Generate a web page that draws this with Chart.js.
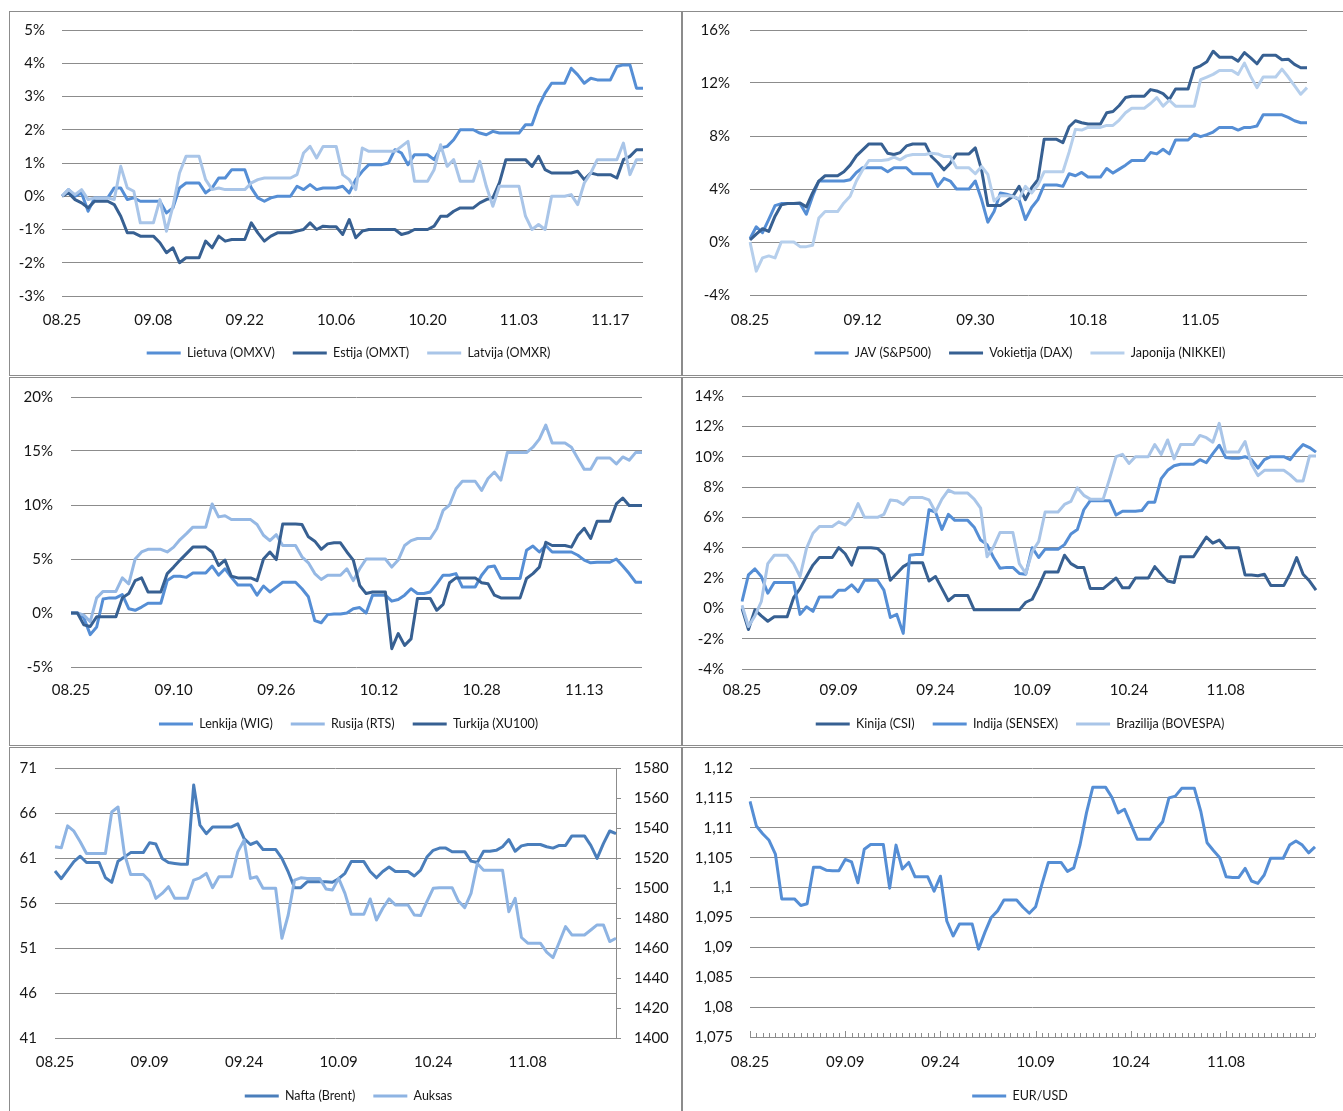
<!DOCTYPE html>
<html>
<head>
<meta charset="utf-8">
<script src="https://cdn.jsdelivr.net/npm/chart.js@4.4.1/dist/chart.umd.min.js"></script>
<style>
html, body { margin: 0; padding: 0; background: #fff; overflow: hidden; }
body { width: 1343px; height: 1111px; position: relative; }
.box { position: absolute; border: 1px solid #8c8c8c; box-sizing: border-box; background: #fff; }
.box canvas { position: absolute; left: 0; top: 0; }
</style>
</head>
<body>
<div class="box" style="left:9px;top:11px;width:673px;height:365px"><canvas id="c1" width="671" height="363"></canvas></div>
<div class="box" style="left:682px;top:11px;width:676px;height:365px"><canvas id="c2" width="674" height="363"></canvas></div>
<div class="box" style="left:9px;top:377px;width:673px;height:369px"><canvas id="c3" width="671" height="367"></canvas></div>
<div class="box" style="left:682px;top:377px;width:676px;height:369px"><canvas id="c4" width="674" height="367"></canvas></div>
<div class="box" style="left:9px;top:747px;width:673px;height:366px"><canvas id="c5" width="671" height="364"></canvas></div>
<div class="box" style="left:682px;top:747px;width:676px;height:366px"><canvas id="c6" width="674" height="364"></canvas></div>
<script>
let dates = [
  "08.25","08.26","08.27","08.28","08.29","08.30","08.31",
  "09.01","09.02","09.03","09.04","09.05","09.06","09.07","09.08","09.09","09.10",
  "09.11","09.12","09.13","09.14","09.15","09.16","09.17","09.18","09.19","09.20",
  "09.21","09.22","09.23","09.24","09.25","09.26","09.27","09.28","09.29","09.30",
  "10.01","10.02","10.03","10.04","10.05","10.06","10.07","10.08","10.09","10.10",
  "10.11","10.12","10.13","10.14","10.15","10.16","10.17","10.18","10.19","10.20",
  "10.21","10.22","10.23","10.24","10.25","10.26","10.27","10.28","10.29","10.30","10.31",
  "11.01","11.02","11.03","11.04","11.05","11.06","11.07","11.08","11.09","11.10",
  "11.11","11.12","11.13","11.14","11.15","11.16","11.17","11.18","11.19","11.20",
  "11.21","11.22"
];

// Baltijos indeksai, %
let lietuva = [0.0, 0.2, 0.0, 0.1, -0.45, -0.05, -0.05, -0.05, 0.25, 0.25,
  -0.1, -0.05, -0.15, -0.15, -0.15, -0.15, -0.5, -0.35, 0.25, 0.4,
  0.4, 0.4, 0.1, 0.25, 0.55, 0.55, 0.8, 0.8, 0.8, 0.25,
  -0.05, -0.15, -0.05, 0.0, 0.0, 0.0, 0.3, 0.2, 0.35, 0.2,
  0.25, 0.25, 0.25, 0.3, 0.1, 0.5, 0.75, 0.95, 0.95, 0.95,
  1.0, 1.4, 1.3, 0.95, 1.25, 1.25, 1.25, 1.1, 1.45, 1.5,
  1.7, 2.0, 2.0, 2.0, 1.9, 1.85, 1.95, 1.9, 1.9, 1.9,
  1.9, 2.15, 2.15, 2.7, 3.1, 3.4, 3.4, 3.4, 3.85, 3.65,
  3.4, 3.55, 3.5, 3.5, 3.5, 3.9, 3.95, 3.95, 3.25, 3.25];
let estija = [0.0, 0.1, -0.1, -0.2, -0.35, -0.15, -0.15, -0.15, -0.25, -0.6,
  -1.1, -1.1, -1.2, -1.2, -1.2, -1.4, -1.7, -1.55, -2.0, -1.85,
  -1.85, -1.85, -1.35, -1.55, -1.2, -1.35, -1.3, -1.3, -1.3, -0.8,
  -1.1, -1.35, -1.2, -1.1, -1.1, -1.1, -1.05, -1.0, -0.8, -1.0,
  -0.9, -0.92, -0.92, -1.15, -0.7, -1.25, -1.05, -1.0, -1.0, -1.0,
  -1.0, -1.0, -1.15, -1.1, -1.0, -1.0, -1.0, -0.9, -0.6, -0.6,
  -0.45, -0.35, -0.35, -0.35, -0.2, -0.1, -0.05, 0.4, 1.1, 1.1,
  1.1, 1.1, 0.9, 1.2, 0.8, 0.7, 0.7, 0.7, 0.7, 0.75,
  0.5, 0.7, 0.65, 0.65, 0.65, 0.55, 1.1, 1.2, 1.4, 1.4];
let latvija = [0.0, 0.2, 0.05, 0.2, -0.1, -0.05, -0.05, -0.05, -0.1, 0.9,
  0.25, 0.15, -0.8, -0.8, -0.8, -0.1, -1.05, -0.3, 0.7, 1.2,
  1.2, 1.2, 0.5, 0.2, 0.25, 0.2, 0.2, 0.2, 0.2, 0.4,
  0.5, 0.55, 0.55, 0.55, 0.55, 0.55, 0.65, 1.3, 1.5, 1.15,
  1.5, 1.5, 1.5, 0.65, 0.5, 0.2, 1.45, 1.35, 1.35, 1.35,
  1.35, 1.35, 1.5, 1.65, 0.45, 0.45, 0.45, 0.8, 1.55, 0.9,
  1.1, 0.45, 0.45, 0.45, 1.05, 0.3, -0.3, 0.3, 0.3, 0.3,
  0.3, -0.6, -1.0, -0.85, -1.0, 0.0, 0.0, 0.0, 0.05, -0.25,
  0.4, 0.7, 1.1, 1.1, 1.1, 1.1, 1.6, 0.65, 1.1, 1.1];

// Išsivysčiusios rinkos, %
let jav = [0.25, 1.15, 0.7, 1.7, 2.75, 2.9, 2.9, 2.9, 2.9, 2.1,
  3.45, 4.6, 4.6, 4.6, 4.6, 4.6, 4.7, 5.25, 5.6, 5.6,
  5.6, 5.6, 5.3, 5.6, 5.6, 5.6, 5.15, 5.15, 5.15, 5.15,
  4.2, 4.8, 4.6, 4.0, 4.0, 4.0, 4.6, 3.2, 1.5, 2.3,
  3.7, 3.6, 3.45, 3.2, 1.7, 2.6, 3.2, 4.3, 4.3, 4.3,
  4.2, 5.15, 5.0, 5.25, 4.9, 4.9, 4.9, 5.55, 5.2, 5.5,
  5.8, 6.15, 6.15, 6.15, 6.75, 6.65, 7.0, 6.65, 7.7, 7.7,
  7.7, 8.15, 7.95, 8.1, 8.3, 8.65, 8.65, 8.65, 8.45, 8.65,
  8.65, 8.75, 9.6, 9.6, 9.6, 9.6, 9.4, 9.15, 9.0, 9.0];
let vokietija = [0.15, 0.6, 1.0, 0.8, 1.95, 2.8, 2.9, 2.9, 2.95, 2.65,
  3.7, 4.6, 5.0, 5.0, 5.0, 5.3, 5.8, 6.5, 6.95, 7.4,
  7.4, 7.4, 6.7, 6.6, 6.75, 7.25, 7.4, 7.4, 7.4, 6.45,
  6.0, 5.45, 5.95, 6.65, 6.65, 6.65, 7.1, 5.45, 2.75, 2.75,
  2.75, 3.1, 3.45, 4.2, 3.2, 4.1, 4.7, 7.75, 7.75, 7.75,
  7.5, 8.7, 9.15, 9.0, 8.9, 8.9, 8.9, 9.75, 9.85, 10.3,
  10.9, 11.0, 11.0, 11.0, 11.5, 11.4, 11.2, 10.75, 11.55, 11.55,
  11.55, 13.1, 13.3, 13.6, 14.4, 13.95, 13.95, 13.95, 13.65, 14.3,
  13.9, 13.45, 14.1, 14.1, 14.1, 13.75, 13.8, 13.4, 13.15, 13.15];
let japonija = [0.0, -2.2, -1.2, -1.05, -1.2, 0.0, 0.0, 0.0, -0.35, -0.35,
  -0.25, 1.8, 2.3, 2.3, 2.3, 2.95, 3.45, 4.6, 5.45, 6.15,
  6.15, 6.15, 6.2, 6.4, 6.2, 6.5, 6.6, 6.6, 6.6, 6.7,
  6.65, 6.45, 6.45, 5.6, 5.6, 5.6, 5.15, 5.7, 5.1, 3.1,
  3.5, 3.5, 3.45, 3.25, 4.2, 3.7, 4.3, 5.3, 5.3, 5.3,
  5.3, 6.8, 8.5, 8.45, 8.65, 8.65, 8.65, 8.8, 8.8, 9.2,
  9.75, 10.1, 10.1, 10.1, 10.45, 10.9, 10.25, 10.7, 10.25, 10.25,
  10.25, 10.25, 12.25, 12.45, 12.65, 12.95, 12.95, 12.95, 12.65, 13.5,
  12.5, 11.65, 12.45, 12.45, 12.45, 13.05, 12.45, 11.8, 11.15, 11.65];

// Besivystančios rinkos, %
let lenkija = [0, 0, -0.45, -2.0, -1.3, 1.3, 1.4, 1.4, 1.7, 0.4,
  0.25, 0.55, 0.9, 0.9, 0.9, 3.0, 3.4, 3.4, 3.3, 3.7,
  3.7, 3.7, 4.35, 3.5, 4.1, 3.3, 2.6, 2.6, 2.6, 1.65,
  2.5, 1.95, 2.4, 2.85, 2.85, 2.85, 2.25, 1.5, -0.7, -0.9,
  -0.15, -0.1, -0.1, 0.0, 0.4, 0.5, 0.0, 1.65, 1.65, 1.65,
  1.1, 1.25, 1.65, 2.25, 1.8, 1.8, 1.95, 2.7, 3.5, 3.5,
  3.65, 2.4, 2.4, 2.4, 3.5, 4.25, 4.35, 3.2, 3.2, 3.2,
  3.2, 5.8, 6.2, 5.65, 6.25, 5.65, 5.65, 5.65, 5.65, 5.35,
  4.9, 4.65, 4.7, 4.7, 4.7, 5.0, 4.35, 3.65, 2.85, 2.85];
let rusija = [0, 0, -0.2, -0.8, 1.4, 2.0, 2.0, 2.0, 3.25, 2.7,
  5.0, 5.65, 5.9, 5.9, 5.9, 5.65, 6.1, 6.8, 7.35, 7.95,
  7.95, 7.95, 10.1, 8.9, 9.0, 8.65, 8.65, 8.65, 8.65, 8.2,
  7.2, 6.7, 7.25, 6.25, 6.25, 6.25, 5.2, 4.65, 3.65, 3.1,
  3.5, 3.5, 3.5, 4.1, 3.0, 4.1, 5.0, 5.0, 5.0, 5.0,
  4.25, 4.9, 6.25, 6.7, 6.9, 6.9, 6.9, 7.8, 9.5, 10.0,
  11.5, 12.2, 12.2, 12.2, 11.35, 12.45, 13.05, 12.3, 14.85, 14.85,
  14.85, 14.85, 15.35, 16.1, 17.4, 15.75, 15.75, 15.75, 15.35, 14.3,
  13.3, 13.3, 14.35, 14.35, 14.35, 13.8, 14.45, 14.15, 14.85, 14.85];
let turkija = [0, 0, -1.1, -1.25, -0.35, -0.35, -0.35, -0.35, 1.4, 1.8,
  3.0, 3.25, 1.95, 1.95, 1.95, 3.65, 4.25, 4.9, 5.5, 6.1,
  6.1, 6.1, 5.65, 4.4, 4.9, 3.4, 3.25, 3.25, 3.25, 3.0,
  5.0, 5.65, 4.95, 8.25, 8.25, 8.25, 8.2, 7.05, 6.65, 5.9,
  6.4, 6.5, 6.5, 5.65, 4.9, 2.55, 1.8, 1.95, 1.95, 1.95,
  -3.3, -1.9, -3.0, -2.4, 1.35, 1.35, 1.35, 0.25, 0.8, 2.8,
  3.25, 3.25, 3.25, 3.25, 2.8, 2.7, 1.65, 1.4, 1.4, 1.4,
  1.4, 3.2, 3.65, 4.25, 6.55, 6.25, 6.25, 6.25, 6.1, 7.2,
  7.85, 6.9, 8.5, 8.5, 8.5, 10.1, 10.65, 9.95, 9.95, 9.95];

let kinija = [0.0, -1.4, -0.1, -0.5, -0.85, -0.55, -0.55, -0.55, 0.7, 1.3,
  2.1, 2.85, 3.35, 3.35, 3.35, 4.0, 3.6, 2.85, 4.0, 4.0,
  4.0, 3.95, 3.55, 1.85, 2.3, 2.75, 3.0, 3.0, 3.0, 1.8,
  2.1, 1.3, 0.5, 0.85, 0.85, 0.85, -0.1, -0.1, -0.1, -0.1,
  -0.1, -0.1, -0.1, -0.1, 0.4, 0.6, 1.45, 2.4, 2.4, 2.4,
  3.5, 2.95, 2.7, 2.7, 1.3, 1.3, 1.3, 1.65, 2.0, 1.35,
  1.35, 2.0, 2.0, 2.0, 2.75, 2.25, 1.8, 1.7, 3.4, 3.4,
  3.4, 4.05, 4.7, 4.3, 4.5, 4.0, 4.0, 4.0, 2.2, 2.2,
  2.15, 2.25, 1.5, 1.5, 1.5, 2.3, 3.35, 2.25, 1.8, 1.2];
let indija = [0.45, 2.2, 2.6, 2.1, 1.0, 1.7, 1.7, 1.7, 1.7, -0.4,
  0.1, -0.2, 0.75, 0.75, 0.75, 1.2, 1.2, 1.55, 1.1, 1.85,
  1.85, 1.85, 1.2, -0.6, -0.4, -1.65, 3.5, 3.55, 3.55, 6.5,
  6.35, 5.2, 6.2, 5.8, 5.8, 5.8, 5.35, 4.5, 4.2, 3.35,
  2.65, 2.7, 2.7, 2.3, 2.25, 4.0, 3.35, 3.9, 3.9, 3.9,
  4.2, 4.9, 5.2, 6.5, 7.1, 7.1, 7.1, 7.1, 6.15, 6.4,
  6.4, 6.4, 6.45, 7.0, 7.0, 8.55, 9.1, 9.4, 9.5, 9.5,
  9.5, 9.8, 9.6, 10.2, 10.75, 9.95, 9.9, 9.9, 10.0, 9.8,
  9.25, 9.8, 10.0, 10.0, 10.0, 9.8, 10.35, 10.8, 10.6, 10.3];
let brazilija = [0.2, -1.2, -0.5, 0.45, 2.95, 3.5, 3.5, 3.5, 2.95, 2.1,
  3.95, 4.95, 5.4, 5.4, 5.4, 5.7, 5.5, 5.95, 6.9, 6.0,
  6.0, 6.0, 6.2, 7.15, 7.1, 6.85, 7.3, 7.3, 7.3, 7.15,
  6.35, 7.2, 7.8, 7.6, 7.6, 7.6, 7.2, 6.6, 3.4, 4.05,
  5.0, 5.0, 5.0, 2.95, 2.3, 3.75, 4.4, 6.35, 6.35, 6.35,
  6.85, 7.05, 7.95, 7.45, 7.2, 7.2, 7.2, 8.55, 10.0, 10.15,
  9.55, 10.0, 10.0, 10.0, 10.8, 10.15, 11.1, 9.85, 10.8, 10.8,
  10.8, 11.4, 11.25, 10.95, 12.2, 10.3, 10.3, 10.3, 11.0, 9.5,
  8.75, 9.1, 9.1, 9.1, 9.1, 8.8, 8.4, 8.4, 10.05, 10.05];

// Žaliavos: nafta USD/bbl (kairė ašis), auksas USD/oz (dešinė ašis)
let nafta = [59.55, 58.7, 59.65, 60.6, 61.2, 60.5, 60.5, 60.5, 58.8, 58.3,
  60.65, 61.1, 61.6, 61.6, 61.6, 62.7, 62.55, 60.95, 60.5, 60.4,
  60.3, 60.3, 69.1, 64.65, 63.7, 64.45, 64.45, 64.45, 64.45, 64.8,
  63.15, 62.5, 62.8, 61.95, 61.95, 61.95, 60.95, 59.45, 57.7, 57.7,
  58.35, 58.35, 58.35, 58.35, 58.3, 58.7, 59.3, 60.6, 60.6, 60.6,
  59.5, 58.8, 59.5, 60.0, 59.5, 59.5, 59.5, 59.0, 59.65, 61.1,
  61.85, 62.1, 62.1, 61.7, 61.7, 61.7, 60.65, 60.5, 61.75, 61.75,
  61.85, 62.25, 63.05, 61.75, 62.35, 62.5, 62.5, 62.5, 62.25, 62.1,
  62.4, 62.4, 63.45, 63.45, 63.45, 62.4, 60.95, 62.6, 64.0, 63.7];
let auksas = [1527.5, 1526.8, 1541.4, 1537.9, 1530.8, 1523, 1523, 1523, 1523, 1550.7,
  1554, 1523, 1509, 1509, 1509, 1504.6, 1493.1, 1496.4, 1500.9, 1493.1,
  1493.1, 1493.1, 1505.3, 1506.8, 1509.7, 1500.2, 1507.5, 1507.5, 1507.5, 1524.1,
  1531.9, 1506.4, 1507.5, 1499.8, 1499.8, 1499.8, 1466.5, 1482, 1505.3, 1506.8,
  1506.4, 1506.4, 1506.4, 1499.3, 1498.6, 1506.4, 1496.4, 1482.5, 1482.5, 1482.5,
  1492.7, 1478.7, 1486.5, 1492.7, 1488.7, 1488.7, 1488.7, 1482, 1481.6, 1490.9,
  1499.8, 1500.2, 1500.2, 1500.2, 1491.3, 1486.9, 1496.4, 1516.4, 1511.9, 1511.9,
  1511.9, 1511.9, 1484.2, 1493.1, 1467, 1463.2, 1463.2, 1463.2, 1457.2, 1453.6,
  1463.8, 1474.3, 1468.7, 1468.7, 1468.7, 1472, 1475.4, 1475.4, 1464.3, 1466.5];

let eurusd = [1.1144, 1.1103, 1.109, 1.1079, 1.1056, 1.0981, 1.0981, 1.0981, 1.097, 1.0973,
  1.1034, 1.1034, 1.1029, 1.1028, 1.1028, 1.1047, 1.1043, 1.1008, 1.1064, 1.1072,
  1.1072, 1.1072, 1.0999, 1.1071, 1.1031, 1.1042, 1.1018, 1.1018, 1.1018, 1.0994,
  1.1019, 1.0944, 1.0919, 1.0939, 1.0939, 1.0939, 1.0897, 1.0925, 1.095, 1.0961,
  1.0979, 1.0979, 1.0979, 1.0967, 1.0957, 1.0968, 1.1006, 1.1042, 1.1042, 1.1042,
  1.1027, 1.1033, 1.1072, 1.1125, 1.1168, 1.1168, 1.1168, 1.1151, 1.1125, 1.1131,
  1.1106, 1.1081, 1.1081, 1.1081, 1.1097, 1.111, 1.115, 1.1153, 1.1166, 1.1166,
  1.1166, 1.1128, 1.1075, 1.1062, 1.105, 1.1018, 1.1017, 1.1017, 1.1032, 1.1011,
  1.1007, 1.1021, 1.1049, 1.1049, 1.1049, 1.1071, 1.1078, 1.1071, 1.1058, 1.1068];

let gridColor = "#8c8c8c";
let textColor = "#161616";
let midBlue = "#558ed5";
let darkBlue = "#376092";
let lightBlue = "#a9c5e8";

Chart.defaults.font.family = "Lato, 'Open Sans', sans-serif";
Chart.defaults.color = textColor;

let pct = v => v + "%";
let plain = v => String(v);
let comma = v => String(+v.toFixed(3)).replace(".", ",");

function series(label, data, color, axis) {
  return {
    label: label, data: data,
    borderColor: color, backgroundColor: color,
    borderWidth: 3, pointRadius: 0, pointHoverRadius: 0,
    tension: 0, borderJoinStyle: "round",
    yAxisID: axis || "y"
  };
}

// little upward tick marks for every day, like on the EUR/USD axis
let dayTicks = {
  id: "dayTicks",
  afterDatasetsDraw(chart) {
    let x = chart.scales.x;
    let bottom = chart.chartArea.bottom;
    let c = chart.ctx;
    c.save();
    c.strokeStyle = gridColor;
    c.lineWidth = 1;
    for (let i = 0; i < dates.length; i++) {
      let px = Math.round(x.getPixelForValue(i)) + 0.5;
      let len = i % 15 === 0 ? 6 : 4;
      c.beginPath();
      c.moveTo(px, bottom);
      c.lineTo(px, bottom - len);
      c.stroke();
    }
    c.restore();
  }
};

function noPad(s) {
  s.paddingTop = 0;
  s.paddingBottom = 0;
  s.paddingLeft = 0;
  s.paddingRight = 0;
}

function makeChart(id, o, sets, plugins) {
  let canvas = document.getElementById(id);
  let w = canvas.width, h = canvas.height;
  let legendH = 40.5;
  let legendTop = o.legendY - 24.25;
  let rightW = w - o.right;

  // last series on top, like in the spreadsheet
  sets.forEach((s, i) => { s.order = sets.length - 1 - i; });

  let scales = {
    x: {
      grid: { display: false, drawTicks: false },
      border: { display: false },
      ticks: { autoSkip: false, maxRotation: 0, minRotation: 0, padding: o.xLabelY - o.bottom - 9, font: { size: 15 } },
      afterBuildTicks: s => { s.ticks = s.ticks.filter(t => t.value % o.every === 0); },
      afterFit: s => { s.height = legendTop - o.bottom; noPad(s); }
    },
    y: {
      min: o.min, max: o.max,
      grid: { color: gridColor, drawTicks: false },
      border: { display: false },
      ticks: { stepSize: o.step, padding: o.yPad, font: { size: 15 }, callback: o.fmt },
      afterFit: s => { s.width = o.left - o.padLeft; noPad(s); }
    }
  };
  if (o.right2) {
    scales.y2 = {
      type: "linear", position: "right",
      min: o.right2.min, max: o.right2.max,
      grid: { drawOnChartArea: false, drawTicks: true, tickLength: 5, color: gridColor },
      border: { display: true, color: gridColor },
      ticks: { stepSize: o.right2.step, padding: 13, font: { size: 15 }, callback: plain },
      afterFit: s => { s.width = rightW; noPad(s); }
    };
  } else {
    scales.yR = {
      type: "linear", position: "right",
      grid: { display: false, drawTicks: false },
      border: { display: false },
      ticks: { display: false },
      afterFit: s => { s.width = rightW; noPad(s); }
    };
  }

  return new Chart(canvas, {
    type: "line",
    data: { labels: dates, datasets: sets },
    options: {
      responsive: false,
      animation: false,
      devicePixelRatio: 1,
      events: [],
      layout: { padding: { left: o.padLeft, right: 0, top: o.top, bottom: h - legendTop - legendH } },
      scales: scales,
      plugins: {
        legend: {
          position: "bottom",
          labels: {
            usePointStyle: true, pointStyle: "line", pointStyleWidth: 34,
            padding: 18, color: textColor, font: { size: 12.5 },
            sort: (a, b) => a.datasetIndex - b.datasetIndex
          }
        },
        tooltip: { enabled: false }
      }
    },
    plugins: plugins || []
  });
}

makeChart("c1",
  { left: 52, right: 633, top: 18, bottom: 284, xLabelY: 308, legendY: 341, padLeft: 6, every: 14, min: -3, max: 5, step: 1, yPad: 17, fmt: pct },
  [series("Lietuva (OMXV)", lietuva, midBlue), series("Estija (OMXT)", estija, darkBlue), series("Latvija (OMXR)", latvija, lightBlue)]);

makeChart("c2",
  { left: 67, right: 624, top: 18, bottom: 283, xLabelY: 308, legendY: 341, padLeft: 0, every: 18, min: -4, max: 16, step: 4, yPad: 20, fmt: pct },
  [series("JAV (S&P500)", jav, midBlue), series("Vokietija (DAX)", vokietija, darkBlue), series("Japonija (NIKKEI)", japonija, "#b6cfec")]);

makeChart("c3",
  { left: 61, right: 632, top: 19, bottom: 289, xLabelY: 312, legendY: 346, padLeft: 6, every: 16, min: -5, max: 20, step: 5, yPad: 18, fmt: pct },
  [series("Lenkija (WIG)", lenkija, midBlue), series("Rusija (RTS)", rusija, "#95b8e4"), series("Turkija (XU100)", turkija, darkBlue)]);

makeChart("c4",
  { left: 59, right: 633, top: 18, bottom: 291, xLabelY: 312, legendY: 346, padLeft: 0, every: 15, min: -4, max: 14, step: 2, yPad: 18, fmt: pct },
  [series("Kinija (CSI)", kinija, darkBlue), series("Indija (SENSEX)", indija, midBlue), series("Brazilija (BOVESPA)", brazilija, lightBlue)]);

makeChart("c5",
  { left: 45, right: 606, top: 20, bottom: 290, xLabelY: 314, legendY: 348, padLeft: 6, every: 15, min: 41, max: 71, step: 5, yPad: 18, fmt: plain,
    right2: { min: 1400, max: 1580, step: 20 } },
  [series("Nafta (Brent)", nafta, "#4a7ebb"), series("Auksas", auksas, "#8eb4e3", "y2")]);

makeChart("c6",
  { left: 67, right: 632, top: 20, bottom: 289, xLabelY: 314, legendY: 348, padLeft: 0, every: 15, min: 1.075, max: 1.12, step: 0.005, yPad: 17, fmt: comma },
  [series("EUR/USD", eurusd, midBlue)], [dayTicks]);
</script>
</body>
</html>
